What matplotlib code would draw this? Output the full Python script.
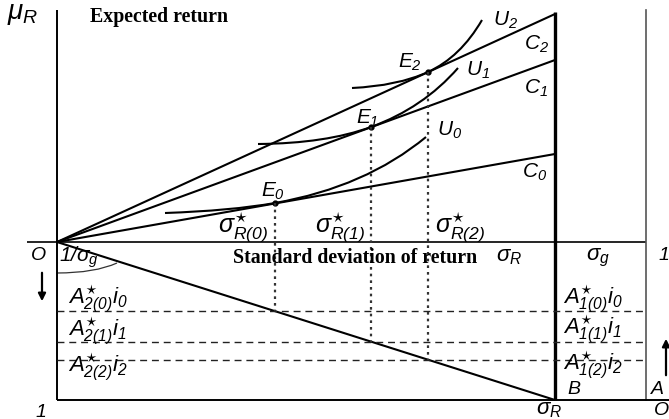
import matplotlib
matplotlib.use("Agg")
import matplotlib.pyplot as plt
from matplotlib.path import Path
from matplotlib.patches import PathPatch

plt.rcParams['mathtext.fontset'] = 'custom'
plt.rcParams['mathtext.rm'] = 'Liberation Sans:italic'
plt.rcParams['mathtext.it'] = 'Liberation Sans:italic'
plt.rcParams['mathtext.bf'] = 'Liberation Sans:italic:bold'
plt.rcParams['mathtext.fallback'] = 'stix'

# diagram units: origin O, sigma_R boundary at 498
sigma_max = 498
sigma_g_x = 589
bottom = -158
axis_top = 232

# capital market lines C0, C1, C2: height reached at sigma_max
c_names = ['C_0', 'C_1', 'C_2']
c_heights = [88, 182, 228]

# optimal points E0..E2 (sigma*, mu*)
e_sigma = [218, 314, 371]
e_mu = [39, 115, 170]

# indifference curves U0..U2: start and end points
u_start = [(108, 29), (201, 98), (295, 154)]
u_end = [(369, 105), (401, 174), (425, 222)]

sig_labels = [r'$\sigma^{\star}_{R(0)}$', r'$\sigma^{\star}_{R(1)}$', r'$\sigma^{\star}_{R(2)}$']
a2_labels = [r'$A^{\star}_{2(0)}i_0$', r'$A^{\star}_{2(1)}i_1$', r'$A^{\star}_{2(2)}i_2$']
a1_labels = [r'$A^{\star}_{1(0)}i_0$', r'$A^{\star}_{1(1)}i_1$', r'$A^{\star}_{1(2)}i_2$']

fig = plt.figure(figsize=(6.69, 4.19), dpi=100)
ax = fig.add_axes([0, 0, 1, 1])
ax.set_xlim(-57, 612)
ax.set_ylim(-177, 242)
ax.axis('off')

k = dict(color='black', solid_capstyle='butt')
# frame
ax.plot([0, 0], [bottom, axis_top], lw=1.4, **k)
ax.plot([-30, sigma_g_x], [0, 0], lw=1.2, **k)
ax.plot([sigma_max, sigma_max], [bottom, axis_top - 2], lw=2.4, **k)
ax.plot([sigma_g_x, sigma_g_x], [bottom, axis_top], lw=1.2, color='#555555')
ax.plot([0, 612], [bottom, bottom], lw=1.4, **k)

# lines C and lower diagonal
for h in c_heights:
    ax.plot([0, sigma_max], [0, h], lw=1.5, **k)
ax.plot([0, sigma_max], [0, bottom], lw=1.5, **k)

# indifference curves, tangent at E
for i in range(3):
    slope = c_heights[i] / sigma_max
    xe, ye = e_sigma[i], e_mu[i]
    x0, y0 = u_start[i]
    x1, y1 = u_end[i]
    cl = x0 + 0.6 * (xe - x0)
    cr = xe + 0.6 * (x1 - xe)
    verts = [(x0, y0), (cl, ye + slope * (cl - xe)), (xe, ye),
             (cr, ye + slope * (cr - xe)), (x1, y1)]
    codes = [Path.MOVETO, Path.CURVE3, Path.CURVE3, Path.CURVE3, Path.CURVE3]
    ax.add_patch(PathPatch(Path(verts, codes), fill=False, lw=1.5, edgecolor='black'))
    ax.plot([xe], [ye], 'o', ms=3.5, color='black')

    level = bottom * xe / sigma_max
    ax.plot([xe, xe], [ye, level], color='#333333', lw=1.6, ls=(0, (1.2, 1.8)))
    ax.plot([0, sigma_g_x], [level, level], color='#222222', lw=1.0, ls=(0, (5, 3.5)))

# angle mark 1/sigma_g
arc = Path([(0, -31), (38, -31), (60, -21)], [Path.MOVETO, Path.CURVE3, Path.CURVE3])
ax.add_patch(PathPatch(arc, fill=False, lw=0.9, edgecolor='#333333'))

# arrows
ax.annotate('', xy=(-15, -62), xytext=(-15, -28),
            arrowprops=dict(arrowstyle='-|>', color='black', lw=1.6, mutation_scale=11))
ax.annotate('', xy=(609, -94), xytext=(609, -136),
            arrowprops=dict(arrowstyle='-|>', color='black', lw=1.6, mutation_scale=11))

plain = dict(style='italic', family='Liberation Sans', ha='center', va='center')
ax.text(-34, 229, r'$\mu_R$', fontsize=20, ha='center', va='center')
ax.text(33, 225, 'Expected return', family='Liberation Serif', weight='bold',
        fontsize=14.3, ha='left', va='center')
ax.text(176, -16, 'Standard deviation of return', family='Liberation Serif',
        weight='bold', fontsize=14.3, ha='left', va='center')
ax.text(452, -15, r'$\sigma_R$', fontsize=16, ha='center', va='center')
ax.text(541, -16, r'$\sigma_g$', fontsize=16, ha='center', va='center')
ax.text(607, -13, '1', fontsize=14, **plain)
ax.text(-19, -14, 'O', fontsize=14, **plain)
ax.text(2, -15, r'$1/\sigma_g$', fontsize=15, ha='left', va='center')
ax.text(-16, -170, '1', fontsize=14, **plain)
ax.text(492, -168, r'$\sigma_R$', fontsize=16, ha='center', va='center')
ax.text(612, -168, 'O', fontsize=14, style='italic', family='Liberation Sans',
        ha='right', va='center')
ax.text(594, -147, 'A', fontsize=14, style='italic', family='Liberation Sans', ha='left', va='center')
ax.text(510, -147, 'B', fontsize=14, style='italic', family='Liberation Sans', ha='left', va='center')

sig_x = [186, 283, 403]
for i in range(3):
    ax.text(sig_x[i], -3, sig_labels[i], fontsize=18, ha='center', va='bottom')

a_y2 = [-57, -89, -125]
a_y1 = [-57, -87, -123]
for i in range(3):
    ax.text(11, a_y2[i], a2_labels[i], fontsize=16, ha='left', va='center')
    ax.text(506, a_y1[i], a1_labels[i], fontsize=16, ha='left', va='center')

e_lab = [(216, 51), (310, 124), (353, 180)]
u_lab = [(393, 112), (421, 172), (448, 222)]
c_lab = [(478, 70), (479, 154), (479, 198)]
t = dict(fontsize=15, ha='center', va='center')
for i in range(3):
    ax.text(*e_lab[i], r'$E_%d$' % i, **t)
    ax.text(*u_lab[i], r'$U_%d$' % i, **t)
    ax.text(*c_lab[i], r'$%s$' % c_names[i], **t)

fig.savefig('out.png', dpi=100)
